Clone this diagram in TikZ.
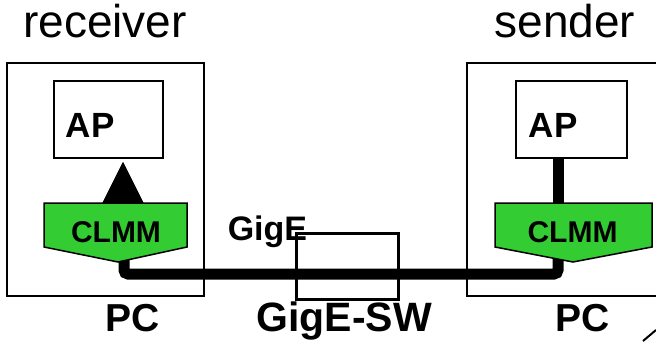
\documentclass[tikz,border=0pt]{standalone}
\usepackage{fontspec}
\setmainfont{Liberation Sans}
\usetikzlibrary{arrows.meta, positioning}

\definecolor{clmmgreen}{RGB}{51,204,51}

\begin{document}
\begin{tikzpicture}[x=1pt, y=-1pt, line width=1.5pt,
    pcbox/.style={draw, minimum width=#1, minimum height=233pt},
    apbox/.style={draw, fill=white, minimum width=#1, minimum height=77pt},
    clmmshape/.style={draw, fill=clmmgreen, line join=miter},
    bigtxt/.style={inner sep=0pt, font=\fontsize{#1}{#1}\selectfont\bfseries},
    toptxt/.style={inner sep=0pt, font=\fontsize{46}{46}\selectfont},
    wire/.style={line width=11pt, rounded corners=4pt}]
    \useasboundingbox (0,0) rectangle (656,342);
    \clip (0,0) rectangle (656,342);

    % The two PCs
    \node[pcbox=197pt] (pcL) at (105.5,179.5) {};
    \node[pcbox=216pt] (pcR) at (575,179.5) {};

    % Applications
    \node[apbox=109pt] (apL) at (108.5,119.5) {};
    \node[apbox=111pt] (apR) at (571.5,119.5) {};

    % Where the cable meets the CLMM modules
    \coordinate (tapL) at (124,255);
    \coordinate (tapR) at (558,255);
    \coordinate (topL) at (123,203);
    \coordinate (topR) at (558,203);

    % Cable through the switch
    \node[draw, line width=3pt, minimum width=102pt, minimum height=66pt] (sw) at (347,266) {};
    \draw[wire] (tapL) -- ++(0,19) -| (tapR);
    \draw[wire, rounded corners=0pt] (apR.south -| topR) -- (topR);
    \draw[line width=1pt, -{Triangle[length=42pt, width=42pt]}, shorten >=3pt]
        (topL) -- (apL.south -| topL);

    % CLMM modules
    \draw[clmmshape] (44,203) -- (187,203) -- (187,247) -- (118,262) -- (44,247) -- cycle;
    \draw[clmmshape] (495,203) -- (652,203) -- (652,247) -- (573,262) -- (495,247) -- cycle;
    \node[bigtxt=30] (clmmL) at (116,232.5) {CLMM};
    \node[bigtxt=30] (clmmR) at (572.5,232.5) {CLMM};

    % Labels
    \node[bigtxt=35, anchor=base west] (apLtxt) at (65,138) {AP};
    \node[bigtxt=35, anchor=base west] (apRtxt) at (528,138) {AP};
    \node[toptxt, anchor=base] (recv) at (105,38) {receiver};
    \node[toptxt, anchor=base] (send) at (565,38) {sender};
    \node[bigtxt=34, anchor=base west] (gige) at (227,240) {GigE};
    \node[bigtxt=41, anchor=base] (swtxt) at (344,331) {GigE-SW};
    \node[bigtxt=39, anchor=base] (pcLtxt) at (133,331) {PC};
    \node[bigtxt=39, anchor=base] (pcRtxt) at (583,331) {PC};

    \draw[line width=2pt] (643,341) -- (656,330);
\end{tikzpicture}
\end{document}
